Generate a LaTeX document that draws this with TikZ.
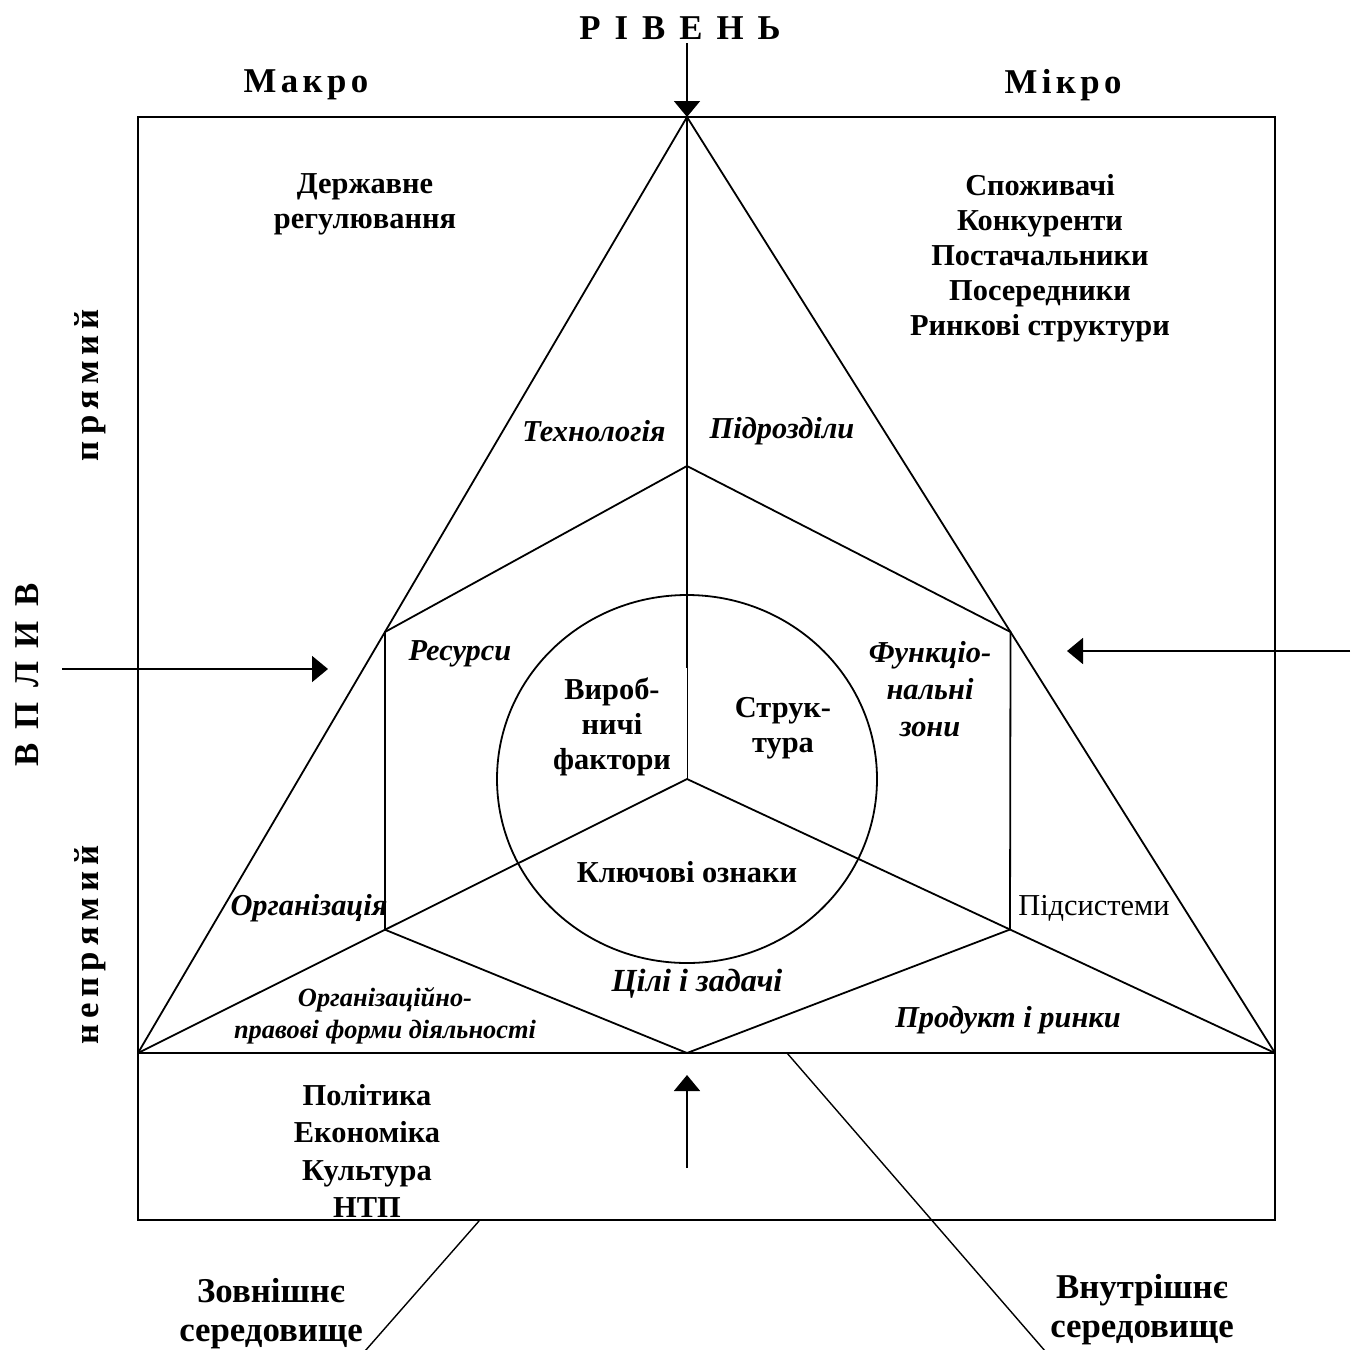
\documentclass[tikz,border=0pt]{standalone}
\usepackage{fontspec}
\setmainfont{Liberation Serif}
\usetikzlibrary{arrows.meta,calc}

\newcommand{\lsp}{\hspace{7pt}}
\newcommand{\ssp}{\hspace{2.2pt}}
\newcommand{\vsp}{\hspace{3pt}}

\tikzset{
  txt/.style={font=\bfseries\fontsize{15.2}{17.5}\selectfont, align=center, inner sep=0pt},
  big/.style={font=\bfseries\fontsize{17.4}{19.5}\selectfont, align=center, inner sep=0pt},
  itl/.style={font=\bfseries\itshape\fontsize{15.2}{18.5}\selectfont, align=center, inner sep=0pt},
  itlbig/.style={font=\bfseries\itshape\fontsize{16.1}{19}\selectfont, align=center, inner sep=0pt},
  itlsmall/.style={font=\bfseries\itshape\fontsize{13.2}{16}\selectfont, align=center, inner sep=0pt},
  plain/.style={font=\fontsize{15.2}{17.5}\selectfont, inner sep=0pt},
  arr/.style={-{Triangle[length=8pt,width=13pt]}},
  thinline/.style={line width=0.4pt}
}

\begin{document}
\begin{tikzpicture}[x=0.5pt, y=-0.5pt, line width=0.9pt]
\useasboundingbox (0,0) rectangle (1358,1349);
\clip (0,0) rectangle (1358,1349);

% frame and triangle
\coordinate (TL) at (138,117);
\coordinate (BRsq) at (1275,1220);
\coordinate (A) at (687,117);
\coordinate (BL) at (138,1053);
\coordinate (BR) at (1275,1053);
\coordinate (O) at (687,779);
\coordinate (V) at (687,668);

% hexagon
\coordinate (H1) at (687,466);
\coordinate (H2) at ($(A)!0.5502!(BL)$);
\coordinate (H6) at ($(A)!0.5502!(BR)$);
\coordinate (H3) at ($(BL)!0.45!(O)$);
\coordinate (H5) at ($(BR)!0.4507!(O)$);
\coordinate (H4) at (687,1053);

\draw (TL) rectangle (BRsq);
\draw (BL) -- (BR);
\draw (BL) -- (A) -- (BR);
\draw (A) -- (V);
\draw[thinline] (V) -- (O);
\draw (H1) -- (H6) -- (H5) -- (H4) -- (H3) -- (H2) -- cycle;
\draw (BL) -- (O) -- (BR);
\draw (O) ellipse [x radius=190, y radius=184];

% arrows
\coordinate (Ttop) at (687,43);
\coordinate (Lsrc) at (62,669);
\coordinate (Ltip) at (328,669);
\coordinate (Rsrc) at (1350,651);
\coordinate (Rtip) at (1067,651);
\coordinate (Bsrc) at (687,1168);
\coordinate (Btip) at (687,1075);
\draw[arr] (Ttop) -- (A);
\draw[arr] (Lsrc) -- (Ltip);
\draw[arr] (Rsrc) -- (Rtip);
\draw[arr] (Bsrc) -- (Btip);

% pointer lines to the environment labels
\coordinate (Pe1) at (479,1221);
\coordinate (Pe2) at (358,1359);
\coordinate (Pi1) at (787,1053);
\coordinate (Pi2) at (1052,1359);
\draw[line width=0.7pt] (Pe1) -- (Pe2);
\draw[line width=0.7pt] (Pi1) -- (Pi2);

% labels
\node[big] (riven) at (680,28) {Р\lsp І\lsp В\lsp Е\lsp Н\lsp Ь};
\node[big] (makro) at (306,85) {М\ssp а\ssp к\ssp р\ssp о};
\node[big] (mikro) at (1063,85) {М\ssp і\ssp к\ssp р\ssp о};

\node[txt] (derzh) at (365,204) {Державне\\регулювання};
\node[txt] (micro) at (1040,258) {Споживачі\\Конкуренти\\Постачальники\\Посередники\\Ринкові структури};

\node[itl] (tech) at (594,431) {Технологія};
\node[itl] (pidr) at (782,431) {Підрозділи};
\node[itl] (res) at (460,654) {Ресурси};
\node[itl] (func) at (930,689) {Функціо-\\нальні\\зони};

\node[txt] (vyr) at (612,727) {Вироб-\\ничі\\фактори};
\node[txt] (str) at (783,728) {Струк-\\тура};
\node[txt] (kl) at (687,872) {Ключові ознаки};

\node[itl] (org) at (309,908) {Організація};
\node[plain] (pids) at (1094,908) {Підсистеми};
\node[itlbig] (cili) at (697,984) {Цілі і задачі};
\node[itlsmall] (orgpr) at (385,1016) {Організаційно-\\правові форми діяльності};
\node[itl] (prod) at (1008,1020) {Продукт і ринки};

\node[txt, font=\bfseries\fontsize{15.2}{18.7}\selectfont] (macro) at (367,1151) {Політика\\Економіка\\Культура\\НТП};

\node[big] (zovn) at (271,1314) {Зовнішнє\\середовище};
\node[big] (vnut) at (1142,1310) {Внутрішнє\\середовище};

\node[big, rotate=90] (vplyv) at (27,675) {В\lsp П\lsp Л\lsp И\lsp В};
\node[big, rotate=90] (pryam) at (90,385) {п\vsp р\vsp я\vsp м\vsp и\vsp й};
\node[big, rotate=90] (nepr) at (90,945) {н\vsp е\vsp п\vsp р\vsp я\vsp м\vsp и\vsp й};
\end{tikzpicture}
\end{document}
